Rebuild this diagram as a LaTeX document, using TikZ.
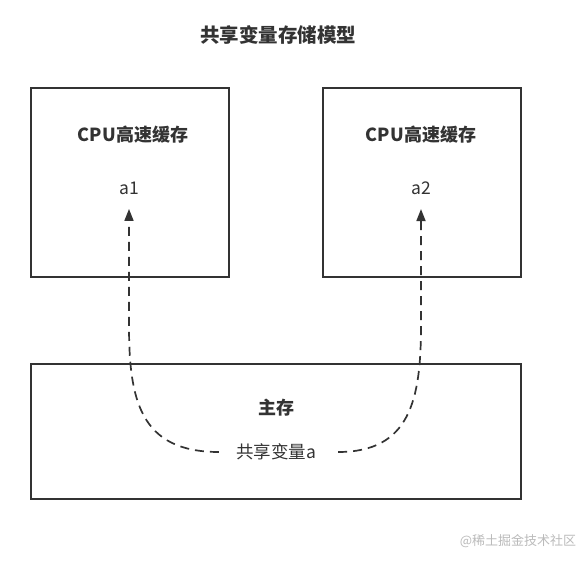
\documentclass[tikz,border=0pt]{standalone}
\usepackage{fontspec}
\setmainfont{Noto Sans CJK SC}
\usetikzlibrary{arrows.meta}
\definecolor{ink}{HTML}{333333}
\definecolor{mark}{HTML}{BBBBBB}
\begin{document}
\begin{tikzpicture}
	[x=1pt,y=-1pt,
	 box/.style={draw=ink,line width=1.8pt},
	 head/.style={text=ink,font=\fontsize{18}{20}\selectfont\bfseries},
	 plain/.style={text=ink,font=\fontsize{17.5}{20}\selectfont},
	 flow/.style={draw=ink,line width=1.7pt,dash pattern=on 9pt off 6pt,-{Triangle[length=12pt,width=9pt]}}]
	\useasboundingbox (0,0) rectangle (587,563);
	\fill[white] (0,0) rectangle (587,563);
	% boxes
	\draw[box] (31,88) rectangle (229,277);
	\draw[box] (323,88) rectangle (521,277);
	\draw[box] (31,364) rectangle (521,499);
	% texts
	\node[head,font=\fontsize{19.5}{21}\selectfont\bfseries] (title) at (278,35) {共享变量存储模型};
	\node[head] (cacheL) at (133,135) {CPU高速缓存};
	\node[head] (cacheR) at (421,135) {CPU高速缓存};
	\node[plain] (a1) at (129,188) {a1};
	\node[plain] (a2) at (421,188) {a2};
	\node[head] (mem) at (276,408) {主存};
	\node[plain,inner sep=0pt] (shared) at (276,452) {共享变量a};
	\node[text=mark,font=\fontsize{13}{15}\selectfont] (brand) at (518,541) {@稀土掘金技术社区};
	% connectors
	\draw[flow,shorten <=17pt,shorten >=11pt] (shared.west) .. controls (140,452) and (129,400) .. (129,325) -- (a1.south);
	\draw[flow,shorten <=22pt,shorten >=11pt] (shared.east) .. controls (410,452) and (421,400) .. (421,325) -- (a2.south);
\end{tikzpicture}
\end{document}
